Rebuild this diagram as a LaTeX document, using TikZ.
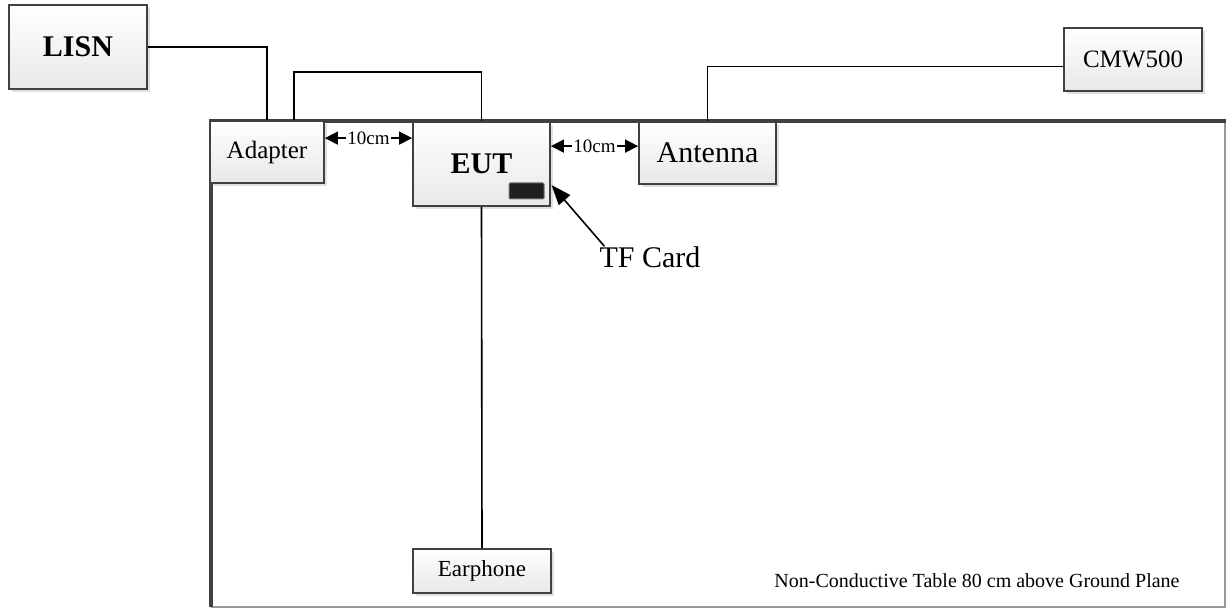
\documentclass[tikz,border=0pt]{standalone}
\usepackage{fontspec}
\setmainfont{Liberation Serif}
\usetikzlibrary{arrows.meta,shadows}

\tikzset{
	unit/.style={draw=black!75,line width=1.8pt,top color=white,bottom color=black!9,inner sep=0pt,
		drop shadow={shadow xshift=3pt,shadow yshift=-3pt,fill=black!12,opacity=1}},
	wire/.style={line width=1.6pt},
	gap/.style={line width=1.4pt,{Triangle[length=13pt,width=13pt]}-{Triangle[length=13pt,width=13pt]}},
	gaplabel/.style={fill=white,inner sep=1pt,font=\fontsize{19}{19}\selectfont},
}

\begin{document}
\begin{tikzpicture}[x=1pt,y=-1pt]
	\useasboundingbox (0,0) rectangle (1226,609);
	\draw [black!40,line width=1.4pt] (1225,121) -- (1225,607) -- (211,607);
	\draw [black!75,line width=3.2pt] (211,607) -- (211,121) -- (1226,121);
	\node [unit,minimum width=138pt,minimum height=84pt,font=\fontsize{30}{30}\selectfont\bfseries] (lisn) at (78,47) {LISN};
	\node [unit,minimum width=114pt,minimum height=62pt,font=\fontsize{25}{25}\selectfont] (adapter) at (267,152) {Adapter};
	\node [unit,minimum width=137pt,minimum height=84pt,font=\fontsize{30}{30}\selectfont\bfseries] (eut) at (481.5,164) {EUT};
	\node [unit,minimum width=137pt,minimum height=62pt,font=\fontsize{30}{30}\selectfont] (antenna) at (707.5,153) {Antenna};
	\node [unit,minimum width=138pt,minimum height=63pt,font=\fontsize{25}{25}\selectfont] (cmw) at (1133,59.5) {CMW500};
	\node [unit,minimum width=138pt,minimum height=44pt,font=\fontsize{23}{23}\selectfont] (earphone) at (482,571) {Earphone};
	\node [draw=black!55,line width=1pt,fill=black!88,rounded corners=1pt,minimum width=35pt,minimum height=16pt,inner sep=0pt] (tfcard) at (526.5,191) {};
	\node [inner sep=0pt,font=\fontsize{30}{30}\selectfont] (tflabel) at (650,257) {TF Card};
	\node [inner sep=0pt,font=\fontsize{20}{20}\selectfont] (tablenote) at (977,581) {Non-Conductive Table 80 cm above Ground Plane};
	\draw [wire] (lisn.east) -| (adapter.north);
	\draw [wire] ([xshift=27pt]adapter.north) -- ++(0,-48) -| (eut.north);
	\draw [wire] ([yshift=-7pt]cmw.west) -| (antenna.north);
	\draw [wire] (eut.south) -- (earphone.north);
	\coordinate (g1) at ([yshift=-18pt]adapter.north east);
	\coordinate (g2) at ([yshift=-25pt]antenna.north west);
	\draw [gap] (g1) -- (g1 -| eut.west) node [gaplabel,midway] {10cm};
	\draw [gap] (g2 -| eut.east) -- (g2) node [gaplabel,midway] {10cm};
	\coordinate (tftip) at ([xshift=7pt,yshift=6pt]tfcard.east);
	\draw [wire,-{Triangle[length=20pt,width=15pt]}] ([xshift=5pt]tflabel.north west) -- (tftip);
\end{tikzpicture}
\end{document}
